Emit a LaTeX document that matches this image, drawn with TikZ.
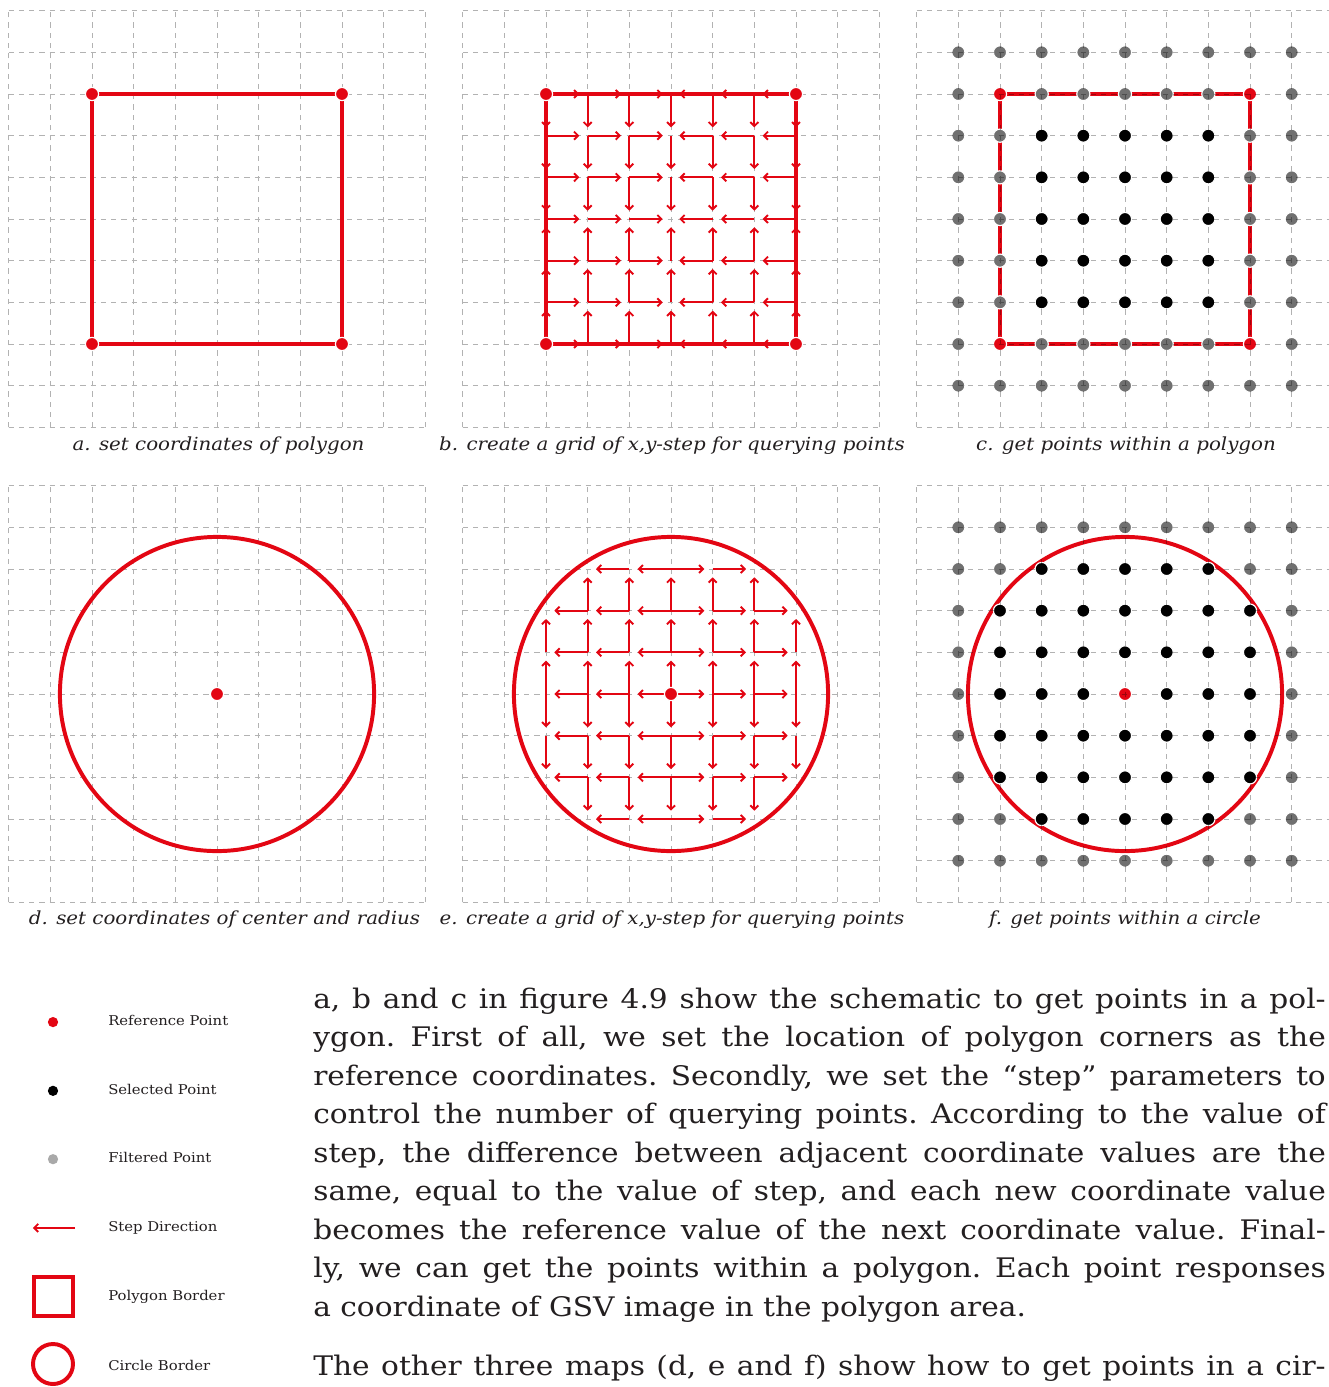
\documentclass[tikz,border=0pt]{standalone}
\usepackage{fontspec}
\setmainfont{DejaVu Serif}[FakeStretch=1.1]
\usetikzlibrary{arrows.meta}

\definecolor{mapred}{RGB}{227,6,19}
\definecolor{filtgray}{RGB}{112,112,112}
\definecolor{inkgray}{RGB}{35,31,32}

\newcommand{\jline}[1]{\makebox[24.3cm][s]{#1}}

\tikzset{
	gridline/.style={black, opacity=.3, line width=.6pt, dash pattern=on 3.5pt off 3.5pt},
	border/.style={mapred, line width=2.7pt},
	stepline/.style={mapred, line width=1.3pt, -{Straight Barb[length=2.7pt,width=5.5pt]}, shorten >=.2cm},
	gridpt/.style={circle, draw=white, line width=.8pt, inner sep=0pt, minimum size=9pt},
	refpt/.style={gridpt, fill=mapred},
	selpt/.style={gridpt, fill=black},
	filtpt/.style={gridpt, fill=filtgray},
	legdot/.style={circle, inner sep=0pt, minimum size=7pt},
	caption/.style={font=\fontsize{12.3pt}{14pt}\selectfont\itshape, text=inkgray, inner sep=0pt},
	legtext/.style={font=\fontsize{9.2pt}{11pt}\selectfont, text=inkgray, anchor=west, inner sep=0pt},
	bodytext/.style={font=\fontsize{18.4pt}{26.3pt}\selectfont\frenchspacing, text=inkgray, inner sep=0pt, align=left}
}

\begin{document}
\begin{tikzpicture}
	\useasboundingbox (0,0) rectangle (31.896,-33.288);
	\clip (0,0) rectangle (31.896,-33.288);

	% a. polygon
	\begin{scope}[shift={(5.208,-5.256)}]
		\draw[gridline] (-5,-5) grid (5,5);
		\draw[border] (-3,-3) rectangle (3,3);
		\foreach \x in {-3,3}
			\foreach \y in {-3,3}
				\node[refpt] (a\x\y) at (\x,\y) {};
	\end{scope}
	\node[caption] (capa) at (5.244,-10.704) {a. set coordinates of polygon};

	% b. steps towards the middle
	\begin{scope}[shift={(16.104,-5.256)}]
		\draw[gridline] (-5,-5) grid (5,5);
		\draw[border] (-3,-3) rectangle (3,3);
		\foreach \i in {-3,...,3}
			\foreach \j in {-3,...,3}{
				\ifnum\i=0 \else \draw[stepline] (\i,\j) -- ({\i-sign(\i)},\j); \fi
				\ifnum\j=0 \else \draw[stepline] (\i,\j) -- (\i,{\j-sign(\j)}); \fi
			}
		\foreach \x in {-3,3}
			\foreach \y in {-3,3}
				\node[refpt] (b\x\y) at (\x,\y) {};
	\end{scope}
	\node[caption] (capb) at (16.128,-10.704) {b. create a grid of x,y-step for querying points};

	% c. points in polygon
	\begin{scope}[shift={(27.0,-5.256)}]
		\draw[border] (-3,-3) rectangle (3,3);
		\foreach \i in {-4,...,4}
			\foreach \j in {-4,...,4}{
				\pgfmathtruncatemacro\kind{(abs(\i)<3)*(abs(\j)<3)+2*(abs(\i)==3)*(abs(\j)==3)}
				\ifcase\kind \def\dotstyle{filtpt}\or \def\dotstyle{selpt}\else \def\dotstyle{refpt}\fi
				\node[\dotstyle] (c\i\j) at (\i,\j) {};
			}
		\draw[gridline] (-5,-5) grid (5,5);
	\end{scope}
	\node[caption] (capc) at (27.024,-10.704) {c. get points within a polygon};

	% d. circle
	\begin{scope}[shift={(5.208,-16.656)}]
		\draw[gridline] (-5,-5) grid (5,5);
		\draw[border] (0,0) circle (3.77);
		\node[refpt] (dmid) at (0,0) {};
	\end{scope}
	\node[caption] (capd) at (5.388,-22.08) {d. set coordinates of center and radius};

	% e. steps away from the center
	\begin{scope}[shift={(16.104,-16.656)}]
		\draw[gridline] (-5,-5) grid (5,5);
		\draw[border] (0,0) circle (3.77);
		\foreach \i in {-3,...,3}
			\foreach \j in {-3,...,3}{
				\pgfmathtruncatemacro\rr{(\i)*(\i)+(\j)*(\j)}
				\ifnum\rr<14
					\ifnum\i=0 \else \draw[stepline] ({\i-sign(\i)},\j) -- (\i,\j); \fi
					\ifnum\j=0 \else \draw[stepline] (\i,{\j-sign(\j)}) -- (\i,\j); \fi
				\fi
			}
		\node[refpt] (emid) at (0,0) {};
	\end{scope}
	\node[caption] (cape) at (16.128,-22.08) {e. create a grid of x,y-step for querying points};

	% f. points in circle
	\begin{scope}[shift={(27.0,-16.656)}]
		\draw[border] (0,0) circle (3.77);
		\foreach \i in {-4,...,4}
			\foreach \j in {-4,...,4}{
				\pgfmathtruncatemacro\kind{((\i)*(\i)+(\j)*(\j)<14)+(\i==0)*(\j==0)}
				\ifcase\kind \def\dotstyle{filtpt}\or \def\dotstyle{selpt}\else \def\dotstyle{refpt}\fi
				\node[\dotstyle] (f\i\j) at (\i,\j) {};
			}
		\draw[gridline] (-5,-5) grid (5,5);
	\end{scope}
	\node[caption] (capf) at (27.0,-22.08) {f. get points within a circle};

	% legend
	\node[legdot, fill=mapred] (lgref) at (1.272,-24.53) {};
	\node[legtext] (lgreft) at (2.592,-24.48) {Reference Point};
	\node[legdot, fill=black] (lgsel) at (1.272,-26.18) {};
	\node[legtext] (lgselt) at (2.592,-26.14) {Selected Point};
	\node[legdot, fill=filtgray!60] (lgfilt) at (1.272,-27.82) {};
	\node[legtext] (lgfiltt) at (2.592,-27.79) {Filtered Point};
	\coordinate (lgstepa) at (1.80,-29.47);
	\coordinate (lgstepb) at (0.79,-29.47);
	\draw[stepline, shorten >=0pt] (lgstepa) -- (lgstepb);
	\node[legtext] (lgstept) at (2.592,-29.47) {Step Direction};
	\draw[border] (0.816,-30.65) rectangle (1.752,-31.58);
	\node[legtext] (lgpolyt) at (2.592,-31.13) {Polygon Border};
	\draw[border] (1.272,-32.736) circle (0.48);
	\node[legtext] (lgcirct) at (2.592,-32.78) {Circle Border};

	% text beside the legend
	\node[bodytext, anchor=north west] (para1) at (7.512,-23.7) {%
		\jline{a, b and c in figure 4.9 show the schematic to get points in a pol-}\\
		\jline{ygon. First of all, we set the location of polygon corners as the}\\
		\jline{reference coordinates. Secondly, we set the “step” parameters to}\\
		\jline{control the number of querying points. According to the value of}\\
		\jline{step, the difference between adjacent coordinate values are the}\\
		\jline{same, equal to the value of step, and each new coordinate value}\\
		\jline{becomes the reference value of the next coordinate value. Final-}\\
		\jline{ly, we can get the points within a polygon. Each point responses}\\
		a coordinate of GSV image in the polygon area.};
	\node[bodytext, anchor=base west] (para2) at (7.512,-33.0)
		{\jline{The other three maps (d, e and f) show how to get points in a cir-}};
\end{tikzpicture}
\end{document}
